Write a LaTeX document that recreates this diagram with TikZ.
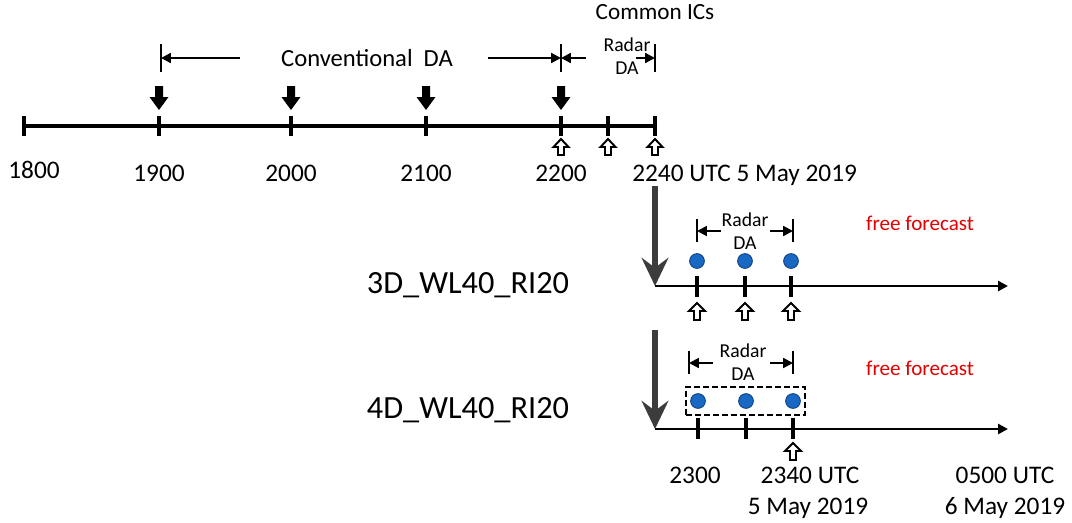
\documentclass[tikz,border=0pt]{standalone}
\usepackage{fontspec}
\setmainfont{Carlito}
\usepackage{xcolor}
\usepackage{tikz}
\usetikzlibrary{arrows.meta, positioning, calc, fit}

\definecolor{dotblue}{RGB}{24,104,196}
\definecolor{dotedge}{RGB}{16,62,128}
\definecolor{ffred}{RGB}{228,0,0}
\definecolor{arrowgray}{RGB}{60,60,60}

\begin{document}
\begin{tikzpicture}[x=0.025cm, y=-0.025cm,
    axisline/.style={line width=2.2pt},
    tickmark/.style={line width=2.2pt},
    barline/.style={line width=2pt},
    spanarrow/.style={line width=1.5pt, -{Triangle[length=7pt, width=7pt]}},
    bigarrow/.style={line width=3.6pt, draw=arrowgray, -{Stealth[length=20pt, width=19pt, inset=7pt]}},
    hollowup/.style={draw, fill=white, line width=1.4pt, line join=miter},
    obsdot/.style={circle, fill=dotblue, draw=dotedge, line width=0.6pt, minimum size=10.5pt, inner sep=0pt},
    dashbox/.style={draw, line width=1.8pt, dash pattern=on 4.3pt off 2.1pt, inner xsep=3pt, inner ysep=4.5pt},
    timelbl/.style={font=\fontsize{18}{20}\selectfont, inner sep=0pt},
    midlbl/.style={font=\fontsize{16.5}{19}\selectfont, inner sep=0pt},
    smalllbl/.style={font=\fontsize{14}{16.4}\selectfont, inner sep=0pt, align=center},
    biglbl/.style={font=\fontsize{23}{26}\selectfont, inner sep=0pt},
    fclbl/.style={font=\fontsize{15}{18}\selectfont, inner sep=0pt, text=ffred}]
  \useasboundingbox (0,0) rectangle (1072,522);

  % Top time axis
  \foreach \x/\n in {24/t18,159/t19,291/t20,426/t21,561/t22,608/t2220,655/t2240}
    \coordinate (\n) at (\x,126);
  \draw[axisline] (t18) -- (t2240);
  \foreach \n in {t18,t19,t20,t21,t22,t2220,t2240}
    \draw[tickmark] ($(\n)+(0,-10)$) -- ($(\n)+(0,10)$);

  % Time labels
  \node[timelbl, anchor=base] (l18) at (34,178) {1800};
  \foreach \x/\n/\t in {159/l19/1900,291/l20/2000,426/l21/2100,561/l22/2200}
    \node[timelbl, anchor=base] (\n) at (\x,181) {\t};
  \node[timelbl, anchor=base west] (l2240) at (632,181) {2240 UTC 5 May 2019};

  % Conventional observations (solid arrows)
  \foreach \x in {159,291,426,561}
    \fill (\x-4,86) -- (\x+4,86) -- (\x+4,97) -- (\x+9.5,97) -- (\x,110)
      -- (\x-9.5,97) -- (\x-4,97) -- cycle;

  % Radar observations (hollow arrows)
  \foreach \x in {561,608,655}
    \draw[hollowup] (\x,139) -- (\x+7.5,147) -- (\x+3,147) -- (\x+3,155)
      -- (\x-3,155) -- (\x-3,147) -- (\x-7.5,147) -- cycle;

  % DA windows
  \foreach \x/\n in {161/b19,561/b22,655/b2240}
    \coordinate (\n) at (\x,58);
  \foreach \n in {b19,b22,b2240}
    \draw[barline] ($(\n)+(0,-14)$) -- ($(\n)+(0,14)$);
  \node[midlbl] (ics) at (655,12) {Common ICs};
  \node[midlbl, font=\fontsize{17.5}{20}\selectfont] (conv) at (367,58) {Conventional~~DA};
  \node[smalllbl] (radar1) at (627,56) {Radar\\DA};
  \coordinate (c1) at (240,58);
  \coordinate (c2) at (488,58);
  \coordinate (r1) at (586,58);
  \coordinate (r2) at (636,58);
  \draw[spanarrow] (c1) -- (b19);
  \draw[spanarrow] (c2) -- (b22);
  \draw[spanarrow] (r1) -- (b22);
  \draw[spanarrow] (r2) -- (b2240);

  % 3D experiment
  \node[biglbl] (exp3) at (468,285) {3D\_WL40\_RI20};
  \coordinate (s3) at (655,186);
  \coordinate (a3) at (655,286);
  \coordinate (e3) at (1008,286);
  \draw[bigarrow] (s3) -- (a3);
  \draw[line width=1.8pt, -{Triangle[length=7pt, width=7pt]}] (a3) -- (e3);
  \foreach \x [count=\i] in {697,745,791} {
    \draw[tickmark] (\x,276) -- (\x,297);
    \node[obsdot] (d3\i) at (\x,261) {};
    \draw[hollowup] (\x,303) -- (\x+8,311) -- (\x+3,311) -- (\x+3,320)
      -- (\x-3,320) -- (\x-3,311) -- (\x-8,311) -- cycle;
  }
  \coordinate (p31) at (697,231);
  \coordinate (p32) at (793,231);
  \foreach \n in {p31,p32}
    \draw[barline] ($(\n)+(0,-12)$) -- ($(\n)+(0,11)$);
  \node[smalllbl] (radar3) at (745,231) {Radar\\DA};
  \coordinate (q31) at (721,231);
  \coordinate (q32) at (770,231);
  \draw[spanarrow] (q31) -- (p31);
  \draw[spanarrow] (q32) -- (p32);
  \node[fclbl] (fc3) at (920,223) {free forecast};

  % 4D experiment
  \node[biglbl] (exp4) at (468,410) {4D\_WL40\_RI20};
  \coordinate (s4) at (655,330);
  \coordinate (a4) at (655,429);
  \coordinate (e4) at (1008,429);
  \draw[bigarrow] (s4) -- (a4);
  \draw[line width=1.8pt, -{Triangle[length=7pt, width=7pt]}] (a4) -- (e4);
  \foreach \x [count=\i] in {698,746,793} {
    \draw[tickmark] (\x,418) -- (\x,439);
    \node[obsdot] (d4\i) at (\x,401) {};
  }
  \node[dashbox, fit=(d41)(d43)] (win4) {};
  \draw[hollowup] (793,443) -- (801,451) -- (796,451) -- (796,460)
    -- (790,460) -- (790,451) -- (785,451) -- cycle;
  \coordinate (p41) at (689,363);
  \coordinate (p42) at (793,363);
  \foreach \n in {p41,p42}
    \draw[barline] ($(\n)+(0,-12)$) -- ($(\n)+(0,11)$);
  \node[smalllbl] (radar4) at (743,362) {Radar\\DA};
  \coordinate (q41) at (713,363);
  \coordinate (q42) at (770,363);
  \draw[spanarrow] (q41) -- (p41);
  \draw[spanarrow] (q42) -- (p42);
  \node[fclbl] (fc4) at (920,368) {free forecast};

  % Bottom time labels
  \node[timelbl, anchor=base] (l23) at (695,483) {2300};
  \node[timelbl, anchor=base] (l2340) at (810,483) {2340 UTC};
  \node[timelbl, anchor=base] (l5may) at (808,514) {5 May 2019};
  \node[timelbl, anchor=base] (l05) at (1005,483) {0500 UTC};
  \node[timelbl, anchor=base] (l6may) at (1005,514) {6 May 2019};
\end{tikzpicture}
\end{document}
